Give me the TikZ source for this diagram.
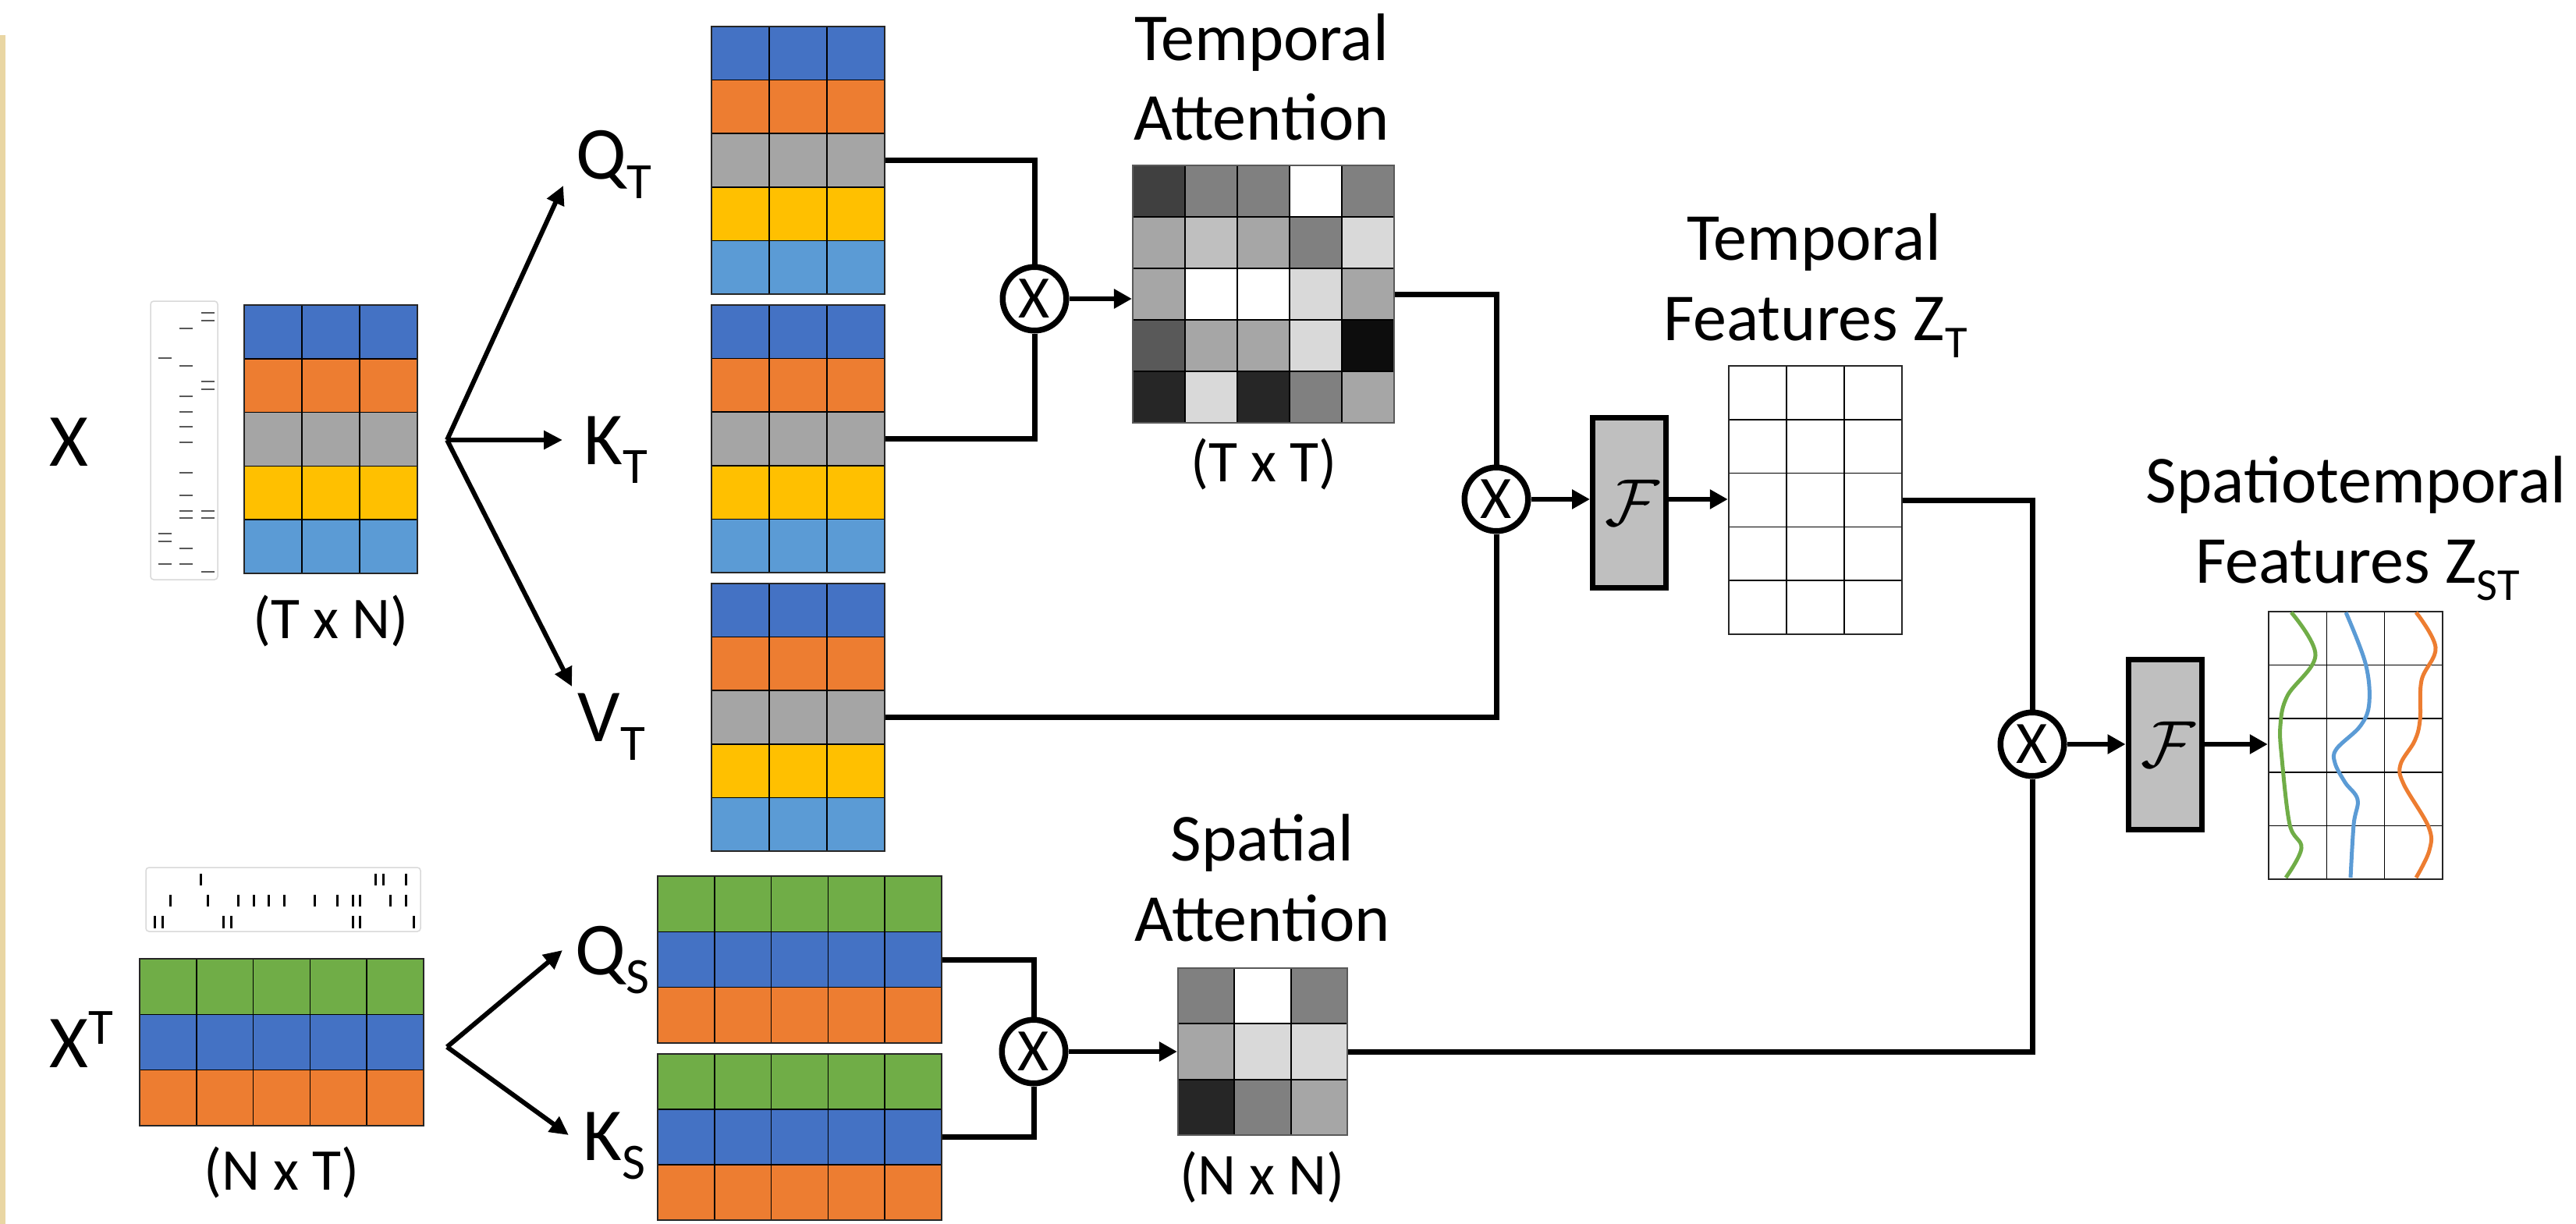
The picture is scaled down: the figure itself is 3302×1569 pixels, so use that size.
\documentclass[tikz,border=0pt]{standalone}
\usepackage{fontspec}
\setmainfont{Carlito}
\usetikzlibrary{arrows.meta,fit}

\definecolor{mblue}{HTML}{4472C4}
\definecolor{morange}{HTML}{ED7D31}
\definecolor{mgray}{HTML}{A5A5A5}
\definecolor{myellow}{HTML}{FFC000}
\definecolor{mlblue}{HTML}{5B9BD5}
\definecolor{mgreen}{HTML}{70AD47}
\definecolor{edgetan}{RGB}{233,214,163}
\definecolor{boxgrey}{HTML}{BFBFBF}
\definecolor{rasterframe}{HTML}{D9D9D9}
\definecolor{tickgrey}{HTML}{595959}

% lowered / raised index letters
\newcommand{\lsub}[1]{\raisebox{-0.26em}{\scalebox{0.68}{#1}}}
\newcommand{\lsup}[1]{\raisebox{0.31em}{\scalebox{0.68}{#1}}}

% matrix of coloured rows: name, x0, y0, x1, y1, columns, rows, row colours
\newcommand{\bandmat}[8]{%
  \pgfmathsetmacro\bmw{(#4-#2)/#6}%
  \pgfmathsetmacro\bmh{(#5-#3)/#7}%
  \foreach \rc [count=\ri from 0] in {#8} {
    \foreach \ci in {1,...,#6} {
      \path[cellline, fill=\rc] ({#2+(\ci-1)*\bmw},{#3+\ri*\bmh}) rectangle ++(\bmw,\bmh);
    }
  }
  \node[matframe, fit={(#2,#3) (#4,#5)}] (#1) {};
}

% grey-level map: name, x0, y0, x1, y1, columns, rows, grey levels (row by row)
\newcommand{\heatmat}[8]{%
  \pgfmathsetmacro\hmw{(#4-#2)/#6}%
  \pgfmathsetmacro\hmh{(#5-#3)/#7}%
  \foreach \g [count=\k from 0] in {#8} {
    \pgfmathtruncatemacro\hr{\k/#6}
    \pgfmathtruncatemacro\hc{\k-#6*\hr}
    \path[heatline, fill={rgb,255:red,\g;green,\g;blue,\g}] ({#2+\hc*\hmw},{#3+\hr*\hmh}) rectangle ++(\hmw,\hmh);
  }
  \node[heatframe, fit={(#2,#3) (#4,#5)}] (#1) {};
}

\tikzset{
  cellline/.style={draw=black, line width=0.15mm},
  matframe/.style={draw=black!85, line width=0.25mm, inner sep=0pt},
  heatline/.style={draw=black, line width=0.18mm},
  heatframe/.style={draw=black!65, line width=0.22mm, inner sep=0pt},
  wire/.style={line width=0.7mm},
  arr/.style={line width=0.6mm, -{Triangle[length=2.3mm,width=2.4mm]}},
  fanarr/.style={line width=0.6mm, -{Triangle[length=2.4mm,width=2.3mm]}},
  mult/.style={circle, draw, line width=0.75mm, minimum size=8.15mm, inner sep=0pt,
    font=\fontsize{22}{22}\selectfont},
  fblock/.style={draw, line width=0.7mm, fill=boxgrey, minimum width=9.4mm,
    minimum height=21.8mm, inner sep=0pt, font=\fontsize{19}{19}\selectfont},
  biglabel/.style={font=\fontsize{27.3}{30}\selectfont, inner sep=0pt, anchor=base west},
  titlelabel/.style={font=\fontsize{24.5}{28}\selectfont, inner sep=0pt, anchor=base},
  dimlabel/.style={font=\fontsize{21.6}{24}\selectfont, inner sep=0pt, anchor=base},
  rasterbox/.style={draw=rasterframe, line width=0.15mm, rounded corners=0.4mm, inner sep=0pt},
  htick/.style={draw=tickgrey, line width=0.23mm},
  vtick/.style={draw=black, line width=0.3mm},
  trace/.style={line width=0.5mm, smooth, tension=0.6},
}

\newcommand{\opF}{\hspace*{0.12em}\scalebox{1.4}{$\mathcal{F}$}}

\begin{document}
\begin{tikzpicture}[x=0.1mm, y=-0.1mm]
\useasboundingbox (0,0) rectangle (3302,1569);
\fill[white] (0,0) rectangle (3302,1569);
\fill[edgetan] (0,45) rectangle (7,1569);

% ---------------- temporal input X ----------------
\node[biglabel] (xlab) at (63,597) {X};
\node[rasterbox, fit={(193,386) (279,743)}] (xraster) {};
\foreach \yy in {459,684,694,723} \draw[htick] (202.5,\yy) -- (219.5,\yy);
\foreach \yy in {421,469,508,528,547,567,606,635,655,664,703,723} \draw[htick] (229.5,\yy) -- (246.5,\yy);
\foreach \yy in {401,411,489,499,655,664,733} \draw[htick] (257.5,\yy) -- (274.5,\yy);
\bandmat{X}{313}{391}{535}{735}{3}{5}{mblue,morange,mgray,myellow,mlblue}
\node[dimlabel] (xdim) at (424,818) {(T x N)};

% projections Q_T, K_T, V_T
\coordinate (fanT) at (573,564);
\coordinate (qttip) at (722,238);
\coordinate (kttip) at (721,564);
\coordinate (vttip) at (733,880);
\draw[fanarr] (fanT) -- (qttip);
\draw[fanarr] (fanT) -- (kttip);
\draw[fanarr] (fanT) -- (vttip);
\node[biglabel] (qtlab) at (738,230) {Q\lsub{T}};
\node[biglabel] (ktlab) at (748,595) {K\lsub{T}};
\node[biglabel] (vtlab) at (740,950) {V\lsub{T}};

\bandmat{QT}{912}{34}{1134}{377}{3}{5}{mblue,morange,mgray,myellow,mlblue}
\bandmat{KT}{912}{391}{1134}{734}{3}{5}{mblue,morange,mgray,myellow,mlblue}
\bandmat{VT}{912}{748}{1134}{1091}{3}{5}{mblue,morange,mgray,myellow,mlblue}

% temporal attention
\node[mult] (m1) at (1326,383) {X};
\heatmat{TA}{1452}{212}{1787}{542}{5}{5}{64,128,128,255,128,166,191,166,128,217,166,255,255,217,166,89,166,166,217,13,38,217,38,128,166}
\node[titlelabel] (tat1) at (1617,78) {Temporal};
\node[titlelabel] (tat2) at (1617,180) {Attention};
\node[dimlabel] (tadim) at (1620,617) {(T x T)};

\draw[wire] (QT.east) -| (m1.north);
\draw[wire] (KT.east) -| (m1.south);
\draw[arr] (m1.east) -- (m1.east -| TA.west);

% temporal features
\node[mult] (m2) at (1918,640) {X};
\draw[wire] (TA.east) -| (m2.north);
\draw[wire] (VT.east) -| (m2.south);
\node[fblock] (F1) at (2088.5,644.5) {\opF};
\bandmat{ZT}{2216}{469}{2438}{813}{3}{5}{white,white,white,white,white}
\node[titlelabel] (zt1) at (2325,333) {Temporal};
\node[titlelabel] (zt2) at (2327,436) {Features Z\lsub{T}};
\draw[arr] (m2.east) -- (m2.east -| F1.west);
\draw[arr] (F1.east |- m2) -- (ZT.west |- m2);

% ---------------- spatial input X^T ----------------
\node[biglabel] (xtlab) at (63,1368) {X\lsup{T}};
\node[rasterbox, fit={(187,1112) (539,1194)}] (xtraster) {};
\foreach \xx in {257,481,491,520} \draw[vtick] (\xx,1120) -- (\xx,1135);
\foreach \xx in {218,266,305,325,344,364,403,432,452,461,500,520} \draw[vtick] (\xx,1147) -- (\xx,1162);
\foreach \xx in {198,208,286,296,452,461,530} \draw[vtick] (\xx,1174) -- (\xx,1190);
\bandmat{XS}{179}{1229}{543}{1443}{5}{3}{mgreen,mblue,morange}
\node[dimlabel] (xsdim) at (361,1525) {(N x T)};

\coordinate (fanS) at (573,1342);
\coordinate (qstip) at (721,1218);
\coordinate (kstip) at (729,1455);
\draw[fanarr] (fanS) -- (qstip);
\draw[fanarr] (fanS) -- (kstip);
\node[biglabel] (qslab) at (737,1249) {Q\lsub{S}};
\node[biglabel] (kslab) at (747,1487) {K\lsub{S}};

\bandmat{QS}{843}{1123}{1207}{1337}{5}{3}{mgreen,mblue,morange}
\bandmat{KS}{843}{1351}{1207}{1564}{5}{3}{mgreen,mblue,morange}

% spatial attention
\node[mult] (m4) at (1325,1348) {X};
\draw[wire] (QS.east) -| (m4.north);
\draw[wire] (KS.east) -| (m4.south);
\heatmat{SA}{1510}{1241}{1727}{1455}{3}{3}{128,255,128,166,217,217,38,128,166}
\node[titlelabel] (sat1) at (1618,1103) {Spatial};
\node[titlelabel] (sat2) at (1618,1206) {Attention};
\node[dimlabel] (sadim) at (1618,1531) {(N x N)};
\draw[arr] (m4.east) -- (m4.east -| SA.west);

% ---------------- spatiotemporal fusion ----------------
\node[mult] (m3) at (2605,954) {X};
\draw[wire] (ZT.east) -| (m3.north);
\draw[wire] (SA.east) -| (m3.south);
\node[fblock] (F2) at (2775,954.5) {\opF};
\bandmat{ZST}{2908}{784}{3131}{1127}{3}{5}{white,white,white,white,white}
\node[titlelabel] (zst1) at (3020,644) {Spatiotemporal};
\node[titlelabel] (zst2) at (3022,747) {Features Z\lsub{ST}};
\draw[arr] (m3.east) -- (m3.east -| F2.west);
\draw[arr] (F2.east |- m3) -- (ZST.west |- m3);

% feature traces
\draw[trace, mgreen] plot coordinates {(2937,785) (2968,840) (2932,892) (2923,930) (2925,973) (2935,1057) (2950,1087) (2930,1125)};
\draw[trace, mlblue] plot coordinates {(3007,785) (3032,850) (3037,900) (3026,930) (2995,960) (2993,978) (3006,1003) (3022,1025) (3017,1057) (3013,1125)};
\draw[trace, morange] plot coordinates {(3097,785) (3122,830) (3104,872) (3102,923) (3095,950) (3077,980) (3081,1005) (3113,1060) (3114,1090) (3097,1125)};
\end{tikzpicture}
\end{document}
